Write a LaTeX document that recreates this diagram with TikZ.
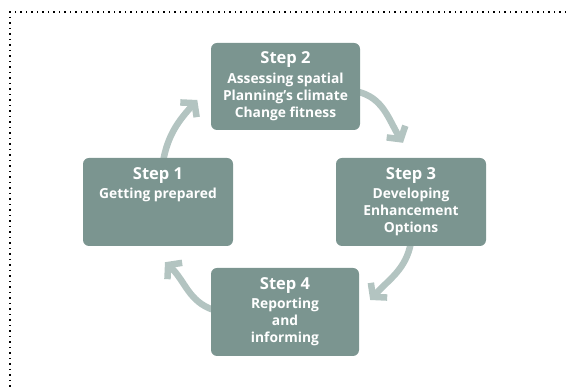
\documentclass[tikz,border=0pt]{standalone}
\usepackage{fontspec}
\setmainfont{Open Sans}
\usetikzlibrary{arrows.meta,calc}
\definecolor{boxc}{HTML}{7B9590}
\definecolor{arrc}{HTML}{B3C4C1}
\begin{document}
\begin{tikzpicture}[x=1pt,y=1pt,
  stepbox/.style={draw=none,fill=boxc,rounded corners=6pt,minimum width=150pt,minimum height=88pt,inner sep=0pt},
  steptitle/.style={text=white,font=\fontsize{16.5}{18}\selectfont\bfseries,inner sep=0pt},
  steptext/.style={text=white,font=\fontsize{13.8}{16.8}\selectfont\bfseries,align=center,inner sep=0pt,anchor=north},
  cyc/.style={draw=arrc,line width=6.5pt,-{Straight Barb[length=9pt,width=22pt]}}]
\useasboundingbox (0,0) rectangle (566,387);
\draw[line width=1.3pt,dash pattern=on 1.3pt off 4.2pt] (566,375) -- (10,375) -- (10,0);
\coordinate (b1c) at (158,185);
\coordinate (b2c) at (285.5,300.5);
\coordinate (b3c) at (411,185);
\coordinate (b4c) at (285,75);
% arrows first (behind boxes)
\path (b1c) node[stepbox,opacity=0] (g1) {} (b2c) node[stepbox,opacity=0] (g2) {}
      (b3c) node[stepbox,opacity=0] (g3) {} (b4c) node[stepbox,opacity=0] (g4) {};
\coordinate (t12) at ($(g2.west)+(-13,-13.5)$);
\coordinate (t23) at ($(g3.north)+(-8,15)$);
\coordinate (t34) at ($(g4.east)+(10,12)$);
\coordinate (t41) at ($(g1.south)+(7,-16)$);
\draw[cyc] ($(g1.north)+(5,-4)$) to[out=80,in=228] (t12);
\draw[cyc] ($(g2.east)+(-4,-5)$) to[out=-12,in=122] (t23);
\draw[cyc] ($(g3.south)+(0,4)$) to[out=-100,in=48] (t34);
\draw[cyc] ($(g4.west)+(4,2)$) to[out=162,in=-42] (t41);
% boxes
\node[stepbox] (b1) at (b1c) {};
\node[stepbox,minimum width=149pt,minimum height=87pt] (b2) at (b2c) {};
\node[stepbox] (b3) at (b3c) {};
\node[stepbox,minimum width=148pt] (b4) at (b4c) {};
% texts
\node[steptitle] (s1) at ($(b1.north)+(0,-17.5)$) {Step 1};
\node[steptext] (x1) at ($(b1.north)+(0,-30)$) {Getting prepared};
\node[steptitle] (s2) at ($(b2.north)+(0,-16.5)$) {Step 2};
\node[steptext] (x2) at ($(b2.north)+(0,-30)$) {Assessing spatial\\Planning’s climate\\Change fitness};
\node[steptitle] (s3) at ($(b3.north)+(0,-17.5)$) {Step 3};
\node[steptext] (x3) at ($(b3.north)+(0,-30)$) {Developing\\Enhancement\\Options};
\node[steptitle] (s4) at ($(b4.north)+(0,-17.5)$) {Step 4};
\node[steptext] (x4) at ($(b4.north)+(0,-30)$) {Reporting\\and\\informing};
\end{tikzpicture}
\end{document}
